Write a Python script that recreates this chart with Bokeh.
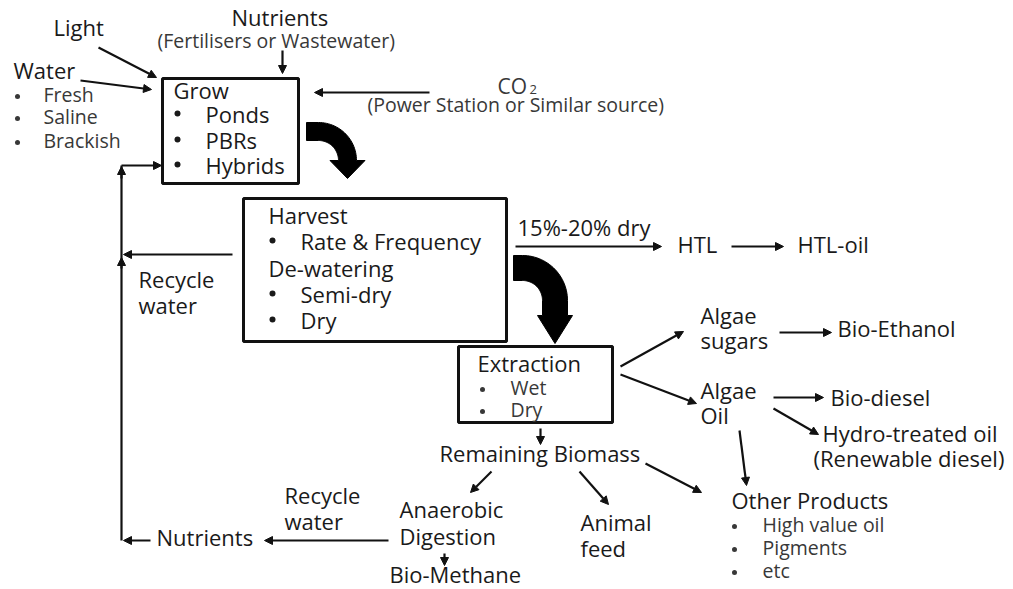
import numpy as np
from bokeh.plotting import figure
from bokeh.models import Range1d, Arrow, NormalHead, ColumnDataSource
from bokeh.embed import file_html
from bokeh.resources import INLINE
from bokeh.core.properties import value

FONT = "Open Sans"
MAIN_COLOR = "#1a1a1a"
SUB_COLOR = "#383838"
TEXT_DY = -8  # renderer places the alphabetic baseline lower than measured

# ---- process boxes (left, right, top, bottom) ----
box_names = ["Grow", "Harvest", "Extraction"]
box_left = [162, 243, 458]
box_right = [298, 506, 612]
box_top = [78, 198, 346]
box_bottom = [183, 341, 422]

# ---- main labels ----
main_text = ["Light", "Nutrients", "Water", "Grow", "Ponds", "PBRs", "Hybrids",
             "Harvest", "Rate & Frequency", "De-watering", "Semi-dry", "Dry",
             "Recycle", "water", "15%-20% dry", "HTL", "HTL-oil", "Extraction",
             "Remaining Biomass", "Algae", "sugars", "Bio-Ethanol", "Algae", "Oil",
             "Bio-diesel", "Hydro-treated oil", "(Renewable diesel)", "Other Products",
             "Anaerobic", "Digestion", "Bio-Methane", "Animal", "feed",
             "Recycle", "water", "Nutrients"]
main_x = [53, 231, 13, 173, 205, 205, 205,
          268, 300, 268, 300, 300,
          138, 138, 517, 677, 797, 477,
          439, 700, 700, 837, 700, 700,
          830, 822, 813, 731,
          399, 399, 389, 580, 580,
          284, 284, 156]
main_y = [34, 24, 77, 97, 121, 147, 172,
          222, 248, 275, 301, 327,
          286, 312, 234, 251, 251, 370,
          460, 322, 347, 335, 397, 422,
          404, 440, 465, 507,
          516, 543, 581, 529, 555,
          502, 528, 544]

# ---- secondary labels ----
sub_text = ["(Fertilisers or Wastewater)", "Fresh", "Saline", "Brackish",
            "(Power Station or Similar source)", "Wet", "Dry",
            "High value oil", "Pigments", "etc"]
sub_x = [157, 43, 43, 43, 367, 510, 510, 762, 762, 762]
sub_y = [48, 102, 124, 148, 112, 395, 417, 532, 555, 578]

formula_text = ["CO"]
formula_x = [497]
formula_y = [93]
subscript_text = ["2"]
subscript_x = [529]
subscript_y = [97]

# ---- bullets (dot centres) ----
main_bullet_x = [177, 177, 177, 272, 272, 272]
main_bullet_y = [113, 139, 164, 240, 293, 319]
sub_bullet_x = [17, 17, 17, 482, 482, 734, 734, 734]
sub_bullet_y = [96, 118, 142, 389, 411, 526, 549, 572]

# ---- straight arrows (start -> end) ----
arr_x0 = [282, 98, 80, 429, 232, 121, 515, 731, 540, 620, 620, 779, 773, 773, 739,
          491, 579, 645, 444, 388, 150, 121, 121]
arr_y0 = [50, 47, 80, 92, 254, 165, 246, 246, 428, 366, 374, 332, 397, 408, 430,
          471, 471, 463, 553, 540, 540, 268, 178]
arr_x1 = [282, 156, 151, 314, 123, 161, 661, 783, 540, 683, 696, 831, 823, 818, 746,
          470, 608, 701, 444, 264, 123, 121, 121]
arr_y1 = [73, 77, 89, 92, 254, 165, 246, 246, 444, 331, 403, 332, 397, 434, 485,
          492, 504, 492, 565, 540, 540, 257, 166]

# ---- plain connector line (recycle loop) ----
loop_x = [121, 121]
loop_y = [540, 165]

# ---- big curved arrows: band start x, band top y, thickness, arc centre, stem, head ----
curve_x_start = [306, 513]
curve_top = [122, 255]
curve_thick = [18, 25]
curve_cx = [318, 522]
curve_cy = [160, 300]
curve_stem = [0, 15]
curve_head_len = [18, 28]
curve_head_half = [17.5, 17.5]


def curved_arrow(x0, top, thick, cx, cy, stem, hlen, hhalf):
    R = cy - top
    r = R - thick
    th = np.linspace(0, np.pi / 2, 30)
    ox = cx + R * np.sin(th)
    oy = cy - R * np.cos(th)
    ix = (cx + r * np.sin(th))[::-1]
    iy = (cy - r * np.cos(th))[::-1]
    mid = cx + (R + r) / 2
    xs = [x0] + list(ox) + [cx + R, mid + hhalf, mid, mid - hhalf, cx + r] + list(ix) + [x0]
    ys = [top] + list(oy) + [cy + stem, cy + stem, cy + stem + hlen, cy + stem, cy + stem] + list(iy) + [top + thick]
    return xs, ys


def shift(ys):
    return [y + TEXT_DY for y in ys]


p = figure(width=1013, height=589, x_range=Range1d(0, 1013), y_range=Range1d(589, 0),
           output_backend="svg", toolbar_location=None, x_axis_type=None, y_axis_type=None,
           min_border=0, outline_line_color=None, background_fill_color="white")
p.xgrid.visible = False
p.ygrid.visible = False

p.quad(left=box_left, right=box_right, top=box_top, bottom=box_bottom,
       fill_color=None, line_color="#111111", line_width=3)

p.line(loop_x, loop_y, line_color="#111111", line_width=2.2)

src = ColumnDataSource(dict(x0=arr_x0, y0=arr_y0, x1=arr_x1, y1=arr_y1))
p.add_layout(Arrow(x_start="x0", y_start="y0", x_end="x1", y_end="y1", source=src,
                   line_color="#111111", line_width=2.2,
                   end=NormalHead(size=8, fill_color="#111111", line_color="#111111", line_width=1)))

cxs, cys = [], []
for i in range(len(curve_x_start)):
    xs, ys = curved_arrow(curve_x_start[i], curve_top[i], curve_thick[i], curve_cx[i],
                          curve_cy[i], curve_stem[i], curve_head_len[i], curve_head_half[i])
    cxs.append(xs)
    cys.append(ys)
p.patches(cxs, cys, fill_color="#000000", line_color="#000000", line_width=1)

p.text(main_x, shift(main_y), text=main_text, text_font=value(FONT), text_font_size="22px",
       text_color=MAIN_COLOR, text_baseline="alphabetic", text_align="left")
p.text(sub_x, shift(sub_y), text=sub_text, text_font=value(FONT), text_font_size="19.5px",
       text_color=SUB_COLOR, text_baseline="alphabetic", text_align="left")
p.text(formula_x, shift(formula_y), text=formula_text, text_font=value(FONT), text_font_size="21px",
       text_color=SUB_COLOR, text_baseline="alphabetic", text_align="left")
p.text(subscript_x, shift(subscript_y), text=subscript_text, text_font=value(FONT), text_font_size="13px",
       text_color=SUB_COLOR, text_baseline="alphabetic", text_align="left")
p.scatter(main_bullet_x, main_bullet_y, marker="circle", size=6, fill_color=MAIN_COLOR,
          line_color=None)
p.scatter(sub_bullet_x, sub_bullet_y, marker="circle", size=5, fill_color=SUB_COLOR,
          line_color=None)

open("out.html", "w").write(file_html(p, INLINE))
